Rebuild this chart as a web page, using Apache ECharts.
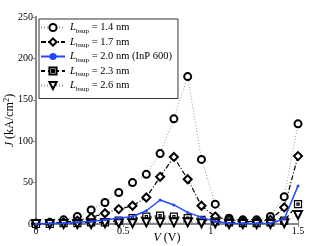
<!DOCTYPE html>
<html><head><meta charset="utf-8">
<script src="https://cdn.jsdelivr.net/npm/echarts@6/dist/echarts.min.js"></script>
<style>html,body{margin:0;padding:0;background:#fff}#c{width:312px;height:246px}</style>
</head><body><div id="c"></div>
<script>
const V = [0, 0.0789, 0.1579, 0.2368, 0.3158, 0.3947, 0.4737, 0.5526, 0.6316, 0.7105, 0.7895, 0.8684, 0.9474, 1.0263, 1.1053, 1.1842, 1.2632, 1.3421, 1.4211, 1.5];
const J14 = [1, 2, 5, 9, 17, 26, 38, 50, 60, 85, 127, 178, 78, 24, 7, 5, 5, 9, 33, 121];
const J17 = [0, 1, 2, 4, 8, 13, 18, 22, 32, 57, 81, 54, 22, 9, 5, 3, 3, 5, 20, 82];
const J20 = [0, 0.5, 1, 2, 3, 5, 7, 9, 16, 29, 23, 14, 8, 3, 1, 0.5, 0.5, 1, 6, 46];
const J23 = [0, 0, 1, 1, 2, 2, 4, 7, 9, 10, 9, 7, 5, 3, 2, 1, 1, 2, 4, 24];
const J26 = [0, 0, 0, 0, 0, 1, 1, 1, 2, 2, 2, 2, 1, 1, 0, 0, 0, 0, 1, 11];
const names = ['1.4 nm', '1.7 nm', '2.0 nm (InP 600)', '2.3 nm', '2.6 nm'];
const xTicks = [0, 0.5, 1, 1.5];
const yTicks = [0, 50, 100, 150, 200, 250];

const FF = '"Liberation Serif", "DejaVu Serif", serif';
const pair = a => a.map((v, i) => [V[i], v]);
const chart = echarts.init(document.getElementById('c'), null, {renderer: 'canvas'});
chart.setOption({
  animation: false,
  textStyle: {fontFamily: FF},
  grid: {left: 36, right: 14, top: 17, bottom: 22, outerBoundsMode: 'none', containLabel: false},
  legend: {
    orient: 'vertical', left: 39, top: 19,
    padding: [3, 6, 6, 1], itemGap: 2, itemWidth: 24, itemHeight: 9,
    backgroundColor: '#fff', borderColor: '#333', borderWidth: 1,
    data: names,
    formatter: n => '{L|L}{s|bsup}{t| = ' + n + '}',
    textStyle: {
      fontFamily: FF, color: '#000',
      rich: {
        L: {fontFamily: FF, fontStyle: 'italic', fontSize: 10.5, color: '#000'},
        s: {fontFamily: FF, fontSize: 7, color: '#000', padding: [7, 0, 0, 0]},
        t: {fontFamily: FF, fontSize: 10.5, color: '#000'}
      }
    }
  },
  xAxis: [{
    type: 'value', min: 0, max: 1.5, interval: 0.5,
    name: '{i|V} (V)', nameLocation: 'middle', nameGap: 8, nameMoveOverlap: false,
    nameTextStyle: {fontFamily: FF, fontSize: 12, color: '#000', rich: {i: {fontFamily: FF, fontStyle: 'italic', fontSize: 12, color: '#000'}}},
    axisLine: {lineStyle: {color: '#888', width: 2}},
    axisTick: {inside: true, length: 3, lineStyle: {color: '#888'}},
    axisLabel: {fontFamily: FF, fontSize: 10, color: '#000', margin: 2,
      formatter: v => xTicks.includes(v) ? String(v) : ''},
    splitLine: {show: false}
  }, {
    type: 'value', position: 'top', min: 0, max: 1.5, interval: 0.5,
    axisLine: {show: true, lineStyle: {color: '#888', width: 2}},
    axisTick: {inside: true, length: 3, lineStyle: {color: '#888'}},
    axisLabel: {show: false}, splitLine: {show: false}
  }],
  yAxis: [{
    type: 'value', min: 0, max: 250, interval: 50,
    name: '{i|J} (kA/cm{sup|2})', nameLocation: 'middle', nameGap: 18, nameMoveOverlap: false,
    nameTextStyle: {fontFamily: FF, fontSize: 12, color: '#000',
      rich: {i: {fontFamily: FF, fontStyle: 'italic', fontSize: 12, color: '#000'},
             sup: {fontFamily: FF, fontSize: 9, color: '#000', padding: [0, 0, 7, 0]}}},
    axisLine: {show: true, lineStyle: {color: '#000', width: 1}},
    axisTick: {show: false},
    axisLabel: {fontFamily: FF, fontSize: 10, color: '#000', margin: 3,
      formatter: v => yTicks.includes(v) ? String(v) : ''},
    splitLine: {show: false}
  }, {
    type: 'value', position: 'right', min: 0, max: 250, interval: 50,
    axisLine: {show: true, lineStyle: {color: '#888', width: 2}},
    axisTick: {show: true, inside: true, length: 3, lineStyle: {color: '#888'}},
    axisLabel: {show: false}, splitLine: {show: false}
  }],
  series: [
    {name: names[0], type: 'line', data: pair(J14), symbol: 'emptyCircle', symbolSize: 7,
     lineStyle: {color: '#999', width: 1, type: [1, 2]},
     itemStyle: {color: '#000', borderColor: '#000', borderWidth: 1.2}, z: 3},
    {name: names[1], type: 'line', data: pair(J17), symbol: 'emptyDiamond', symbolSize: 8,
     lineStyle: {color: '#000', width: 1.2, type: [5, 2, 1, 2]},
     itemStyle: {color: '#000', borderColor: '#000', borderWidth: 1.2}, z: 3},
    {name: names[2], type: 'line', data: pair(J20), symbol: 'circle', symbolSize: 3,
     lineStyle: {color: '#2448ff', width: 1.5},
     itemStyle: {color: '#2448ff'}, z: 4},
    {name: names[3], type: 'line', data: pair(J23), symbol: 'path://M0,0H10V10H0Z M3.5,3.5H6.5V6.5H3.5Z', symbolSize: 7,
     lineStyle: {color: '#000', width: 1.2, type: [4, 3]},
     itemStyle: {color: '#fff', borderColor: '#000', borderWidth: 1.2}, z: 3},
    {name: names[4], type: 'line', data: pair(J26), symbol: 'emptyTriangle', symbolRotate: 180, symbolSize: 8,
     lineStyle: {color: '#999', width: 1, type: [1, 2]},
     itemStyle: {color: '#000', borderColor: '#000', borderWidth: 1.2}, z: 3}
  ]
});
</script></body></html>
